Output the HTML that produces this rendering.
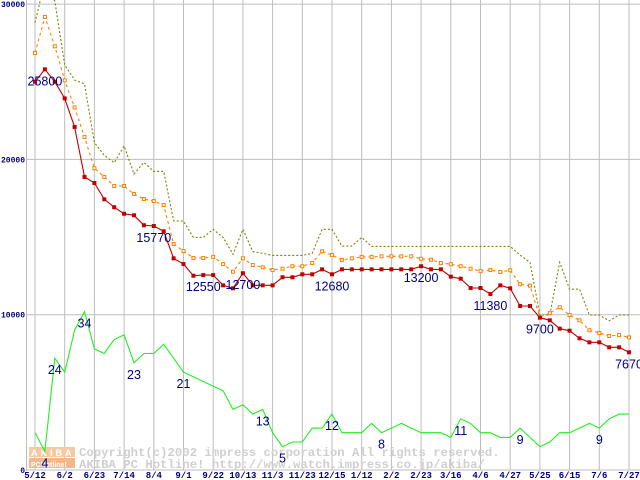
<!DOCTYPE html>
<html><head><meta charset="utf-8"><style>
html,body{margin:0;padding:0;background:#fff;}
svg{display:block;}
.tk{font-family:"Liberation Mono",monospace;font-size:8px;font-weight:bold;fill:#000080;}
.xt{font-family:"Liberation Mono",monospace;font-size:9px;font-weight:bold;fill:#000080;}
.lb{font-family:"Liberation Sans",sans-serif;font-size:12.5px;fill:#000080;}
.wm{font-family:"Liberation Mono",monospace;font-size:12.3px;font-weight:bold;fill:#cfcfcf;}
</style></head><body>
<svg id="chart" width="640" height="480" viewBox="0 0 640 480" xmlns="http://www.w3.org/2000/svg">
<g id="grid"></g>
<g id="wm">
  <rect x="29" y="447" width="46" height="10" fill="#f6c9a3"/>
  <rect x="29" y="458" width="46" height="10" fill="#f2b88a"/>
  <text x="31" y="456" font-family="Liberation Sans,sans-serif" font-size="9" font-weight="bold" fill="#fff" letter-spacing="3">AKIBA</text>
  <text x="31" y="467" font-family="Liberation Sans,sans-serif" font-size="7" font-weight="bold" fill="#fff">PCHotline!</text>
  <text class="wm" x="79" y="456">Copyright(c)2002 impress corporation All rights reserved.</text>
  <text class="wm" x="79" y="468">AKIBA PC Hotline!  http://www.watch.impress.co.jp/akiba/</text>
</g>
<g id="series"></g>
<g id="labels"></g>
</svg>
<script>
const xLabels=["5/12","6/2","6/23","7/14","8/4","9/1","9/22","10/13","11/3","11/23","12/15","1/12","2/2","2/23","3/16","4/6","4/27","5/25","6/15","7/6","7/27"];
const yTicks=[0,10000,20000,30000];
const redVals=[25000,25800,25000,23930,22090,18870,18480,17430,16920,16500,16400,15760,15710,15370,13630,13260,12510,12550,12550,11890,11700,12670,11890,11890,11890,12410,12410,12600,12600,12920,12600,12920,12920,12920,12920,12920,12920,12920,12920,13120,12920,12920,12450,12320,11720,11720,11330,11890,11700,10560,10560,9810,9640,9100,8970,8480,8220,8220,7900,7900,7580];
const orangeVals=[26850,29170,27280,25090,23350,21440,19430,18870,18290,18290,17770,17450,17320,17060,14550,14100,13650,13650,13720,13260,12770,13630,13200,13050,12880,12960,13120,13120,13330,14080,13840,13520,13630,13720,13720,13760,13760,13760,13760,13600,13540,13330,13250,13120,12960,12810,12880,12750,12860,11960,11870,9830,10100,10480,9980,9640,9000,8820,8630,8690,8540];
const oliveVals=[28800,31500,30200,26080,25110,24860,21080,20260,19790,20860,19060,19810,19230,19230,16050,16030,14980,14980,15500,14980,13890,15500,14060,13950,13820,13820,13820,13820,13950,15500,15500,14420,14420,14980,14400,14400,14400,14400,14400,14400,14400,14400,14400,14400,14400,14400,14400,14400,14400,13840,13370,9980,9980,13370,11640,11640,9980,9980,9610,9980,9980];
const greenCounts=[8,4,24,21,30,34,26,25,28,29,23,25,25,27,24,21,20,19,18,17,13,14,12,13,8,5,6,6,9,9,12,8,8,8,10,8,9,10,9,8,8,8,7,11,10,8,8,7,7,9,7,5,6,8,8,9,10,9,11,12,12];
const greenScale=300;
const redLabelIdx=[1,12,17,21,30,39,46,51,60];
const redLabelText=["25800","15770","12550","12700","12680","13200","11380","9700","7670"];
const greenLabelIdx=[1,2,5,10,15,23,25,30,35,43,49,57];

const NS="http://www.w3.org/2000/svg";
const X0=35,DX=9.9,Y0=470,PY=155.3/10000;
function xs(i){return X0+DX*i;}
function ys(v){return Y0-v*PY;}
function mk(tag,attrs,parent){const e=document.createElementNS(NS,tag);for(const k in attrs)e.setAttribute(k,attrs[k]);parent.appendChild(e);return e;}
const grid=document.getElementById('grid'),ser=document.getElementById('series'),lab=document.getElementById('labels');
yTicks.forEach(v=>{
  const l=mk('line',{x1:26,x2:640,y1:ys(v),y2:ys(v),stroke:'#bdbdbd','stroke-width':1},grid);
  
  
  const t=mk('text',{x:25,y:ys(v)+3,'text-anchor':'end',class:'tk'},grid);
  t.textContent=String(v);
  
  
});
const ax=mk('line',{x1:26.5,x2:26.5,y1:0,y2:471,stroke:'#bdbdbd','stroke-width':1},grid);


xLabels.forEach((s,i)=>{
  const x=xs(i*3);
  const l=mk('line',{x1:x,x2:x,y1:0,y2:470,stroke:'#bdbdbd','stroke-width':1},grid);
  
  
  const t=mk('text',{x:x,y:478,'text-anchor':'middle',class:'xt'},grid);
  t.textContent=s;
  
  
});
function pts(vals,f){return vals.map((v,i)=>xs(i).toFixed(1)+','+ys(f?f(v):v).toFixed(1)).join(' ');}
const g=mk('polyline',{points:pts(greenCounts,c=>c*greenScale),fill:'none',stroke:'#22ee22','stroke-width':1.1},ser);


const o=mk('polyline',{points:pts(oliveVals),fill:'none',stroke:'#808000','stroke-width':1.1,'stroke-dasharray':'2,2'},ser);


const or=mk('polyline',{points:pts(orangeVals),fill:'none',stroke:'#ff8000','stroke-width':1.1,'stroke-dasharray':'3,3'},ser);


orangeVals.forEach((v,i)=>{
  const r=mk('rect',{x:xs(i)-1.5,y:ys(v)-1.5,width:3,height:3,fill:'#fff',stroke:'#ff8000','stroke-width':1},ser);
  
  
});
const rl=mk('polyline',{points:pts(redVals),fill:'none',stroke:'#c00000','stroke-width':1.1},ser);


redVals.forEach((v,i)=>{
  const r=mk('rect',{x:xs(i)-2,y:ys(v)-2,width:4,height:4,fill:'#c00000'},ser);
  
  
});
redLabelIdx.forEach((k,j)=>{
  const t=mk('text',{x:xs(k),y:ys(redVals[k])+16,'text-anchor':'middle',class:'lb'},lab);
  t.textContent=redLabelText[j];
  
  
});
greenLabelIdx.forEach(k=>{
  const t=mk('text',{x:xs(k),y:ys(greenCounts[k]*greenScale)+16,'text-anchor':'middle',class:'lb'},lab);
  t.textContent=String(greenCounts[k]);
  
  
});
</script>
</body></html>
